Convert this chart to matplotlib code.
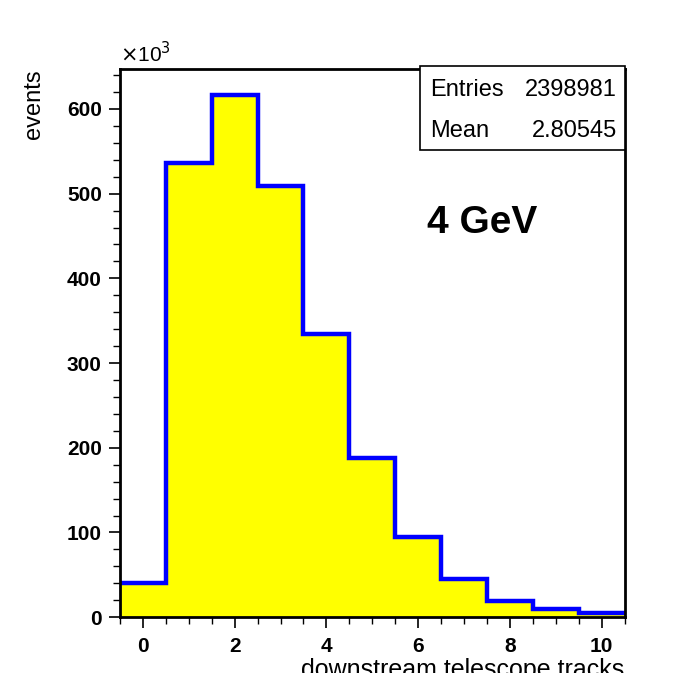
import numpy as np
import matplotlib.pyplot as plt
from matplotlib.ticker import MultipleLocator

plt.rcParams['font.family'] = ['Liberation Sans', 'DejaVu Sans']

# histogram contents (thousands of events per bin)
bins = [0, 1, 2, 3, 4, 5, 6, 7, 8, 9, 10]
counts = [40, 536, 616, 509, 334, 188, 95, 45, 19, 9.5, 4.7]
entries = "2398981"
mean = "2.80545"
label = "4 GeV"

fig = plt.figure(figsize=(6.85, 6.73), dpi=100)
ax = fig.add_axes([0.175, 0.083, 0.737, 0.814])

edges = np.append(np.array(bins) - 0.5, bins[-1] + 0.5)
ax.stairs(counts, edges, fill=True, color='#ffff00', zorder=1)
ax.stairs(counts, edges, color='#0000ff', linewidth=3.2, baseline=None, zorder=2)

ax.set_xlim(-0.5, 10.5)
ax.set_ylim(0, max(counts) * 1.05)

ax.xaxis.set_major_locator(MultipleLocator(2))
ax.xaxis.set_minor_locator(MultipleLocator(0.5))
ax.yaxis.set_major_locator(MultipleLocator(100))
ax.yaxis.set_minor_locator(MultipleLocator(20))
ax.tick_params(which='major', direction='out', length=8, width=1.2, labelsize=15)
ax.tick_params(which='minor', direction='out', length=5, width=1.0)
for lab in ax.get_xticklabels() + ax.get_yticklabels():
    lab.set_fontweight('bold')
ax.tick_params(axis='x', pad=6)
ax.tick_params(axis='y', pad=5)

for s in ax.spines.values():
    s.set_linewidth(2)

ax.text(0.0, 1.005, r'$\times$10$^3$', transform=ax.transAxes, fontsize=15,
        ha='left', va='bottom')

fig.text(0.05, 0.897, 'events', rotation=90, ha='center', va='top', fontsize=17)
fig.text(0.912, 0.023, 'downstream telescope tracks', ha='right', va='top', fontsize=18)

# stats box
box = plt.Rectangle((0.594, 0.853), 0.406, 0.153, transform=ax.transAxes,
                    facecolor='white', edgecolor='black', linewidth=1.2,
                    zorder=5, clip_on=False)
ax.add_patch(box)
ax.text(0.614, 0.963, 'Entries', transform=ax.transAxes, fontsize=17,
        ha='left', va='center', zorder=6)
ax.text(0.985, 0.963, entries, transform=ax.transAxes, fontsize=17,
        ha='right', va='center', zorder=6)
ax.text(0.614, 0.888, 'Mean', transform=ax.transAxes, fontsize=17,
        ha='left', va='center', zorder=6)
ax.text(0.985, 0.888, mean, transform=ax.transAxes, fontsize=17,
        ha='right', va='center', zorder=6)

ax.text(0.608, 0.72, label, transform=ax.transAxes, fontsize=28,
        fontweight='bold', ha='left', va='center')

fig.savefig('out.png', dpi=100)
